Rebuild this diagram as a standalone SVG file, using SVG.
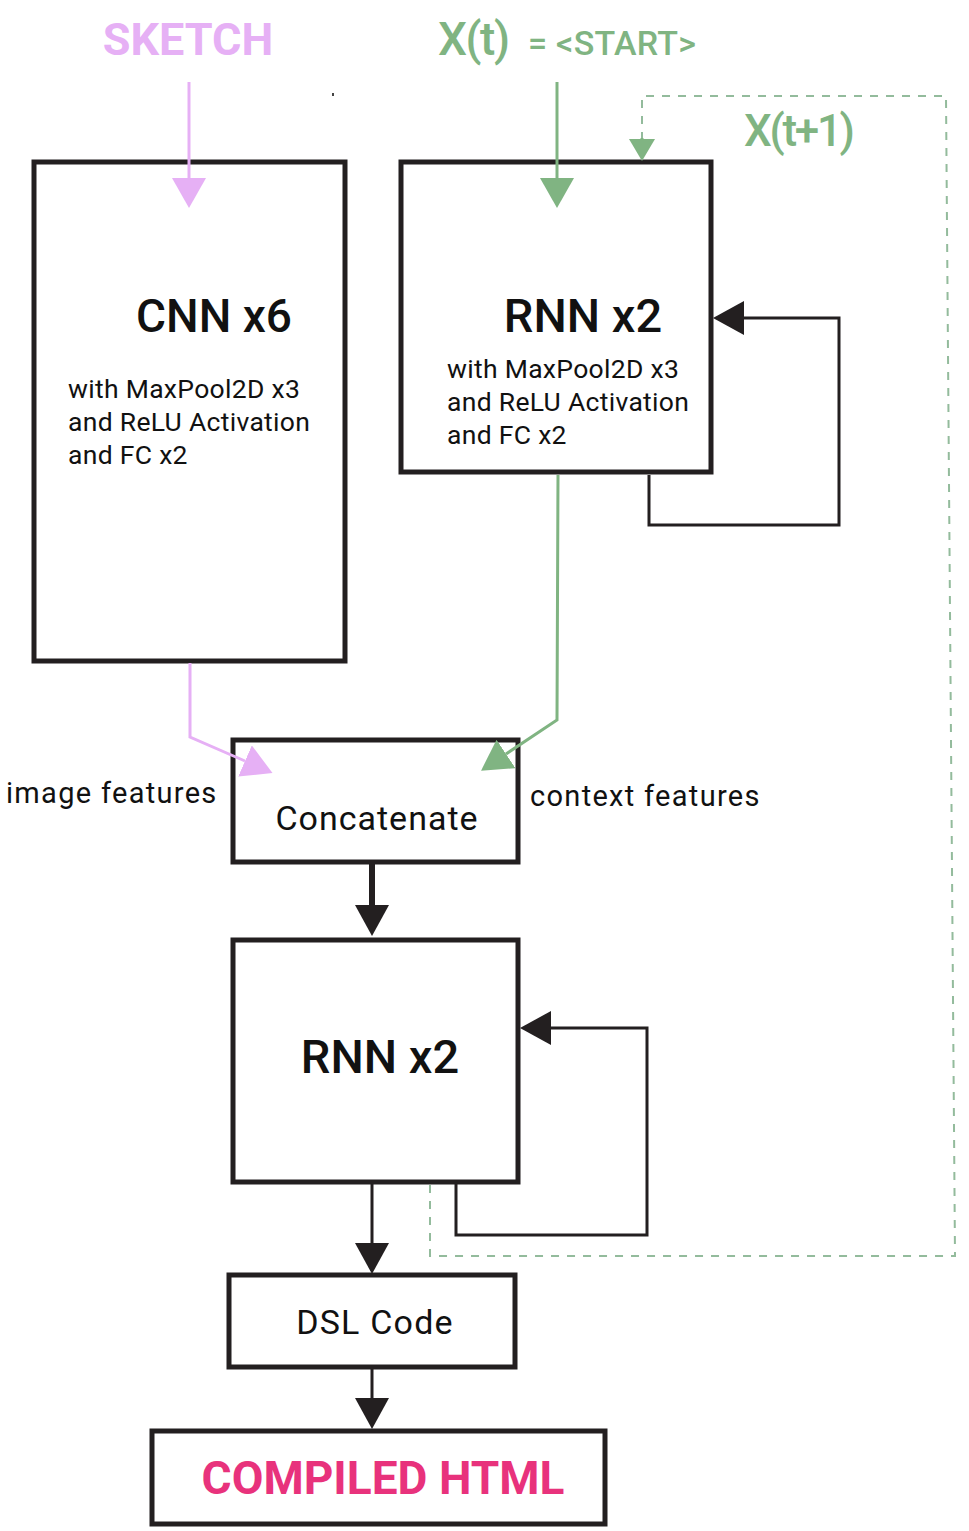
<svg xmlns="http://www.w3.org/2000/svg" width="969" height="1531" viewBox="0 0 969 1531">
<defs>
<style>
.box{fill:#fff;stroke:#231f20;stroke-width:5}
.t{font-family:Roboto,"Liberation Sans",sans-serif;fill:#111}
.sub{font-size:26.5px;letter-spacing:0.3px}
.blk{stroke:#231f20;fill:none}
.pk{stroke:#e6b0f5;fill:none;stroke-width:3}
.gr{stroke:#80b482;fill:none;stroke-width:3}
.dash{stroke:#93bb9c;fill:none;stroke-width:2;stroke-dasharray:8 8}
</style>
<marker id="mPk" markerUnits="userSpaceOnUse" markerWidth="36" markerHeight="36" refX="0" refY="17" orient="auto" viewBox="0 0 36 36"><path d="M0,0 L30,17 L0,34 z" fill="#e6b0f5"/></marker>
<marker id="mGr" markerUnits="userSpaceOnUse" markerWidth="36" markerHeight="36" refX="0" refY="17" orient="auto" viewBox="0 0 36 36"><path d="M0,0 L30,17 L0,34 z" fill="#80b482"/></marker>
<marker id="mGrS" markerUnits="userSpaceOnUse" markerWidth="30" markerHeight="30" refX="0" refY="13" orient="auto" viewBox="0 0 30 30"><path d="M0,0 L22,13 L0,26 z" fill="#80b482"/></marker>
<marker id="mBk" markerUnits="userSpaceOnUse" markerWidth="36" markerHeight="36" refX="0" refY="17" orient="auto" viewBox="0 0 36 36"><path d="M0,0 L31,17 L0,34 z" fill="#231f20"/></marker>
</defs>
<rect width="969" height="1531" fill="#fff"/>

<g id="labels">
<text class="t" x="188" y="55" font-size="45" font-weight="bold" text-anchor="middle" style="fill:#e6b0f5">SKETCH</text>
<text class="t" x="438" y="55" font-size="46" font-weight="500" style="fill:#80b482"><tspan textLength="72">X(t)</tspan><tspan font-size="34" x="528" textLength="168">= &lt;START&gt;</tspan></text>
<text class="t" x="744" y="146" font-size="44" font-weight="500" textLength="111" style="fill:#80b482">X(t+1)</text>
<text class="t" x="6" y="803" font-size="29" letter-spacing="1.3">image features</text>
<text class="t" x="530" y="806" font-size="29" letter-spacing="1.3">context features</text>
<rect x="332" y="93" width="2" height="3" fill="#444"/>
</g>

<g id="cnn">
<rect x="34" y="162" width="311" height="499" class="box"/>
<text class="t" x="214" y="332" font-size="46" font-weight="500" text-anchor="middle">CNN x6</text>
<text class="t sub" x="68" y="398">with MaxPool2D x3</text>
<text class="t sub" x="68" y="431">and ReLU Activation</text>
<text class="t sub" x="68" y="464">and FC x2</text>
</g>

<g id="rnn1">
<rect x="401" y="162" width="310" height="310" class="box"/>
<text class="t" x="583" y="332" font-size="47" font-weight="500" text-anchor="middle">RNN x2</text>
<text class="t sub" x="447" y="378">with MaxPool2D x3</text>
<text class="t sub" x="447" y="411">and ReLU Activation</text>
<text class="t sub" x="447" y="444">and FC x2</text>
</g>

<g id="concat">
<rect x="233" y="740" width="285" height="122" class="box"/>
<text class="t" x="377" y="830" font-size="34" letter-spacing="1" text-anchor="middle">Concatenate</text>
</g>

<g id="rnn2">
<rect x="233" y="940" width="285" height="242" class="box"/>
<text class="t" x="380" y="1073" font-size="47" font-weight="500" text-anchor="middle">RNN x2</text>
</g>

<g id="dsl">
<rect x="229" y="1275" width="286" height="92" class="box"/>
<text class="t" x="375" y="1334" font-size="34" letter-spacing="1.2" text-anchor="middle">DSL Code</text>
</g>

<g id="html">
<rect x="152" y="1431" width="453" height="93" class="box"/>
<text class="t" x="383" y="1494" font-size="46" font-weight="bold" text-anchor="middle" style="fill:#e8327c">COMPILED HTML</text>
</g>

<g id="connectors">
<line x1="189" y1="82" x2="189" y2="178" class="pk" marker-end="url(#mPk)"/>
<line x1="557" y1="82" x2="557" y2="178" class="gr" marker-end="url(#mGr)"/>
<path d="M642,140 L642,96 L946,96 L955,1256 L430,1256 L430,1185" class="dash"/>
<line x1="642" y1="138" x2="642" y2="139" class="gr" marker-end="url(#mGrS)" stroke-width="0.1"/>
<path d="M649,475 L649,525 L839,525 L839,318 L744,318" class="blk" stroke-width="3" marker-end="url(#mBk)"/>
<path d="M190,663 L190,737 L245,761" class="pk" marker-end="url(#mPk)"/>
<path d="M558,475 L557,720 L506,754" class="gr" marker-end="url(#mGr)"/>
<line x1="372" y1="864" x2="372" y2="905" class="blk" stroke-width="6" marker-end="url(#mBk)"/>
<path d="M456,1184 L456,1235 L647,1235 L647,1028 L551,1028" class="blk" stroke-width="3" marker-end="url(#mBk)"/>
<line x1="372" y1="1184" x2="372" y2="1243" class="blk" stroke-width="3" marker-end="url(#mBk)"/>
<line x1="372" y1="1369" x2="372" y2="1398" class="blk" stroke-width="3" marker-end="url(#mBk)"/>
</g>
</svg>
